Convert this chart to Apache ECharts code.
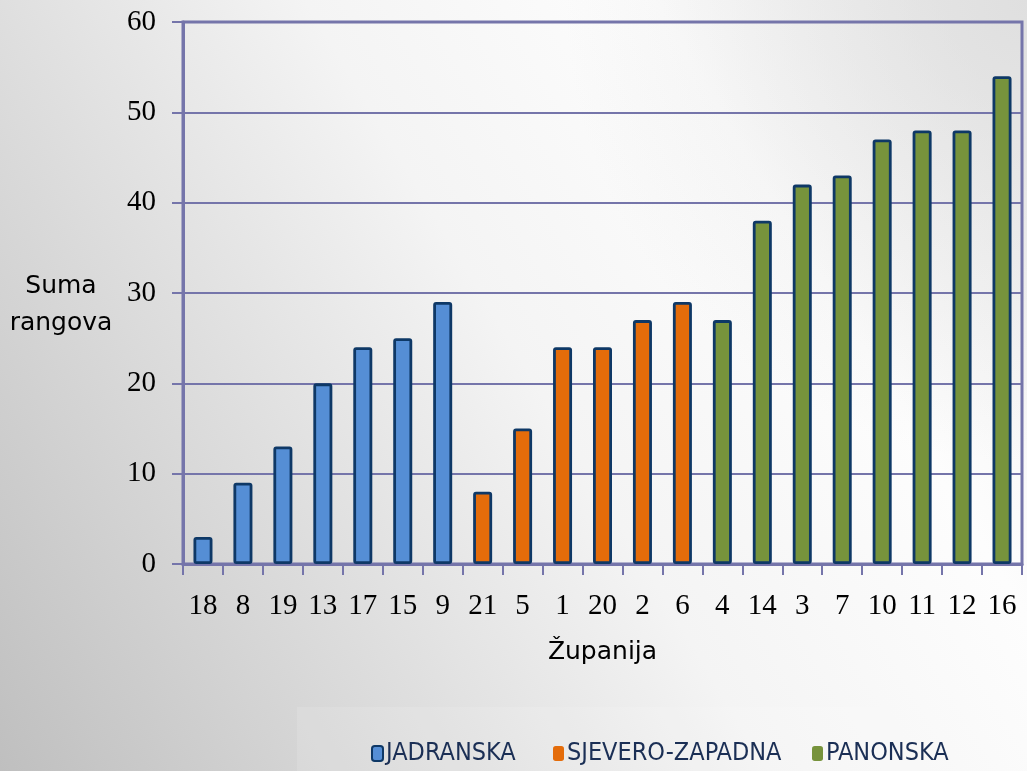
<!DOCTYPE html>
<html>
<head>
<meta charset="utf-8">
<script src="https://cdn.jsdelivr.net/npm/echarts@6/dist/echarts.min.js"></script>
<style>html,body{margin:0;padding:0;}#c{width:1027px;height:771px;}</style>
</head>
<body>
<div id="c"></div>
<script>
const categories = ['18','8','19','13','17','15','9','21','5','1','20','2','6','4','14','3','7','10','11','12','16'];
const jadranska = [3,9,13,20,24,25,29,null,null,null,null,null,null,null,null,null,null,null,null,null,null];
const sjeveroZapadna = [null,null,null,null,null,null,null,8,15,24,24,27,29,null,null,null,null,null,null,null,null];
const panonska = [null,null,null,null,null,null,null,null,null,null,null,null,null,27,38,42,43,47,48,48,54];
const seriesNames = ['JADRANSKA','SJEVERO-ZAPADNA','PANONSKA'];
const yTicks = [0,10,20,30,40,50,60];
const yAxisTitle = 'Suma\nrangova';
const xAxisTitle = 'Županija';

const chart = echarts.init(document.getElementById('c'), null, {renderer:'canvas'});
const gridColor = '#7575aa';
const edge = '#0e3866';
const legendFont = '"DejaVu Sans Condensed", "Liberation Sans Narrow", "Roboto Condensed", "Liberation Sans", sans-serif';
function bar(name, data, color){
  return {name, type:'bar', data, stack:'all', barWidth:19,
    itemStyle:{color, borderColor:edge, borderWidth:2.8, borderRadius:1.5}};
}
chart.setOption({
  backgroundColor: new echarts.graphic.LinearGradient(0,1,1,0.2,[
    {offset:0,color:'#bfbfbf'},{offset:0.55,color:'#f4f4f4'},{offset:0.8,color:'#fdfdfd'},{offset:1,color:'#f2f2f2'}]),
  animation:false,
  graphic:[
    {type:'rect', silent:true, z:-1, shape:{x:0,y:0,width:1027,height:771},
      style:{fill:new echarts.graphic.RadialGradient(1,0,0.6,[
        {offset:0,color:'rgba(200,200,200,0.45)'},{offset:1,color:'rgba(200,200,200,0)'}])}},
    {type:'rect', silent:true, z:-1, shape:{x:297,y:707,width:678,height:64},
      style:{fill:'rgba(255,255,255,0.12)'}},
    {type:'text', silent:true, x:61, y:305,
      style:{text:yAxisTitle, font:'25px "DejaVu Sans"', fill:'#000', align:'center', verticalAlign:'middle', lineHeight:37}}
  ],
  grid:{left:183, right:5, top:22, bottom:207, show:true, borderColor:gridColor, borderWidth:3, backgroundColor:'transparent'},
  xAxis:{type:'category', data:categories,
    name:xAxisTitle, nameLocation:'middle', nameGap:88,
    nameTextStyle:{fontFamily:'DejaVu Sans', fontSize:25, color:'#000', verticalAlign:'middle'},
    axisLine:{lineStyle:{color:gridColor, width:3}},
    axisTick:{show:true, length:11, lineStyle:{color:gridColor, width:2}, alignWithLabel:false},
    axisLabel:{fontFamily:'Liberation Serif', fontSize:29, color:'#000', margin:28}},
  yAxis:{type:'value', min:0, max:60, interval:10,
    axisLine:{show:true, lineStyle:{color:gridColor, width:3}},
    axisTick:{show:true, length:11, lineStyle:{color:gridColor, width:2}},
    splitLine:{lineStyle:{color:gridColor, width:2}},
    axisLabel:{fontFamily:'Liberation Serif', fontSize:29, color:'#000', margin:27,
      formatter:v=>yTicks.includes(v)?String(v):''}},
  legend:[
    {data:[seriesNames[0]], left:366, top:736, itemWidth:11, itemHeight:15, itemGap:0,
      textStyle:{fontFamily:legendFont, fontSize:25, color:'#1b2f55', padding:[0,0,0,-2]}},
    {data:[seriesNames[1]], left:548, top:736, itemWidth:11, itemHeight:15,
      itemStyle:{borderWidth:0},
      textStyle:{fontFamily:legendFont, fontSize:25, color:'#1b2f55', padding:[0,0,0,-2]}},
    {data:[seriesNames[2]], left:807, top:736, itemWidth:11, itemHeight:15,
      itemStyle:{borderWidth:0},
      textStyle:{fontFamily:legendFont, fontSize:25, color:'#1b2f55', padding:[0,0,0,-2]}}
  ],
  series:[
    bar(seriesNames[0], jadranska, '#558ed5'),
    bar(seriesNames[1], sjeveroZapadna, '#e46c0a'),
    bar(seriesNames[2], panonska, '#77933c')
  ]
});
</script>
</body>
</html>
